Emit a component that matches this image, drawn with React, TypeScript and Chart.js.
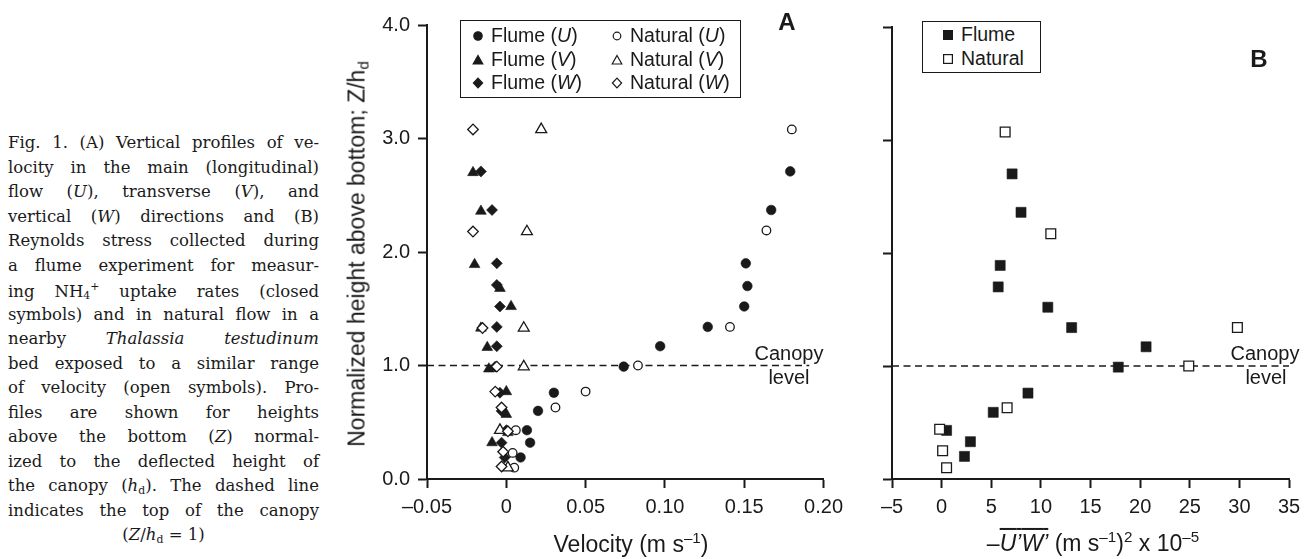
import React, { useEffect, useRef } from "react";
import { Chart, registerables } from "chart.js";

Chart.register(...registerables);

// ---------------- shared axis data ----------------
const heightTicks = [0, 1, 2, 3, 4];
const heightTickLabels = ["0.0", "1.0", "2.0", "3.0", "4.0"];
const canopyLevel = 1.0;

// ---------------- Panel A: velocity profiles ----------------
const velocityTicks = [-0.05, 0, 0.05, 0.1, 0.15, 0.2];
const velocityTickLabels = ["\u20130.05", "0", "0.05", "0.10", "0.15", "0.20"];
const canopyLineA = [-0.05, 0.191];

const flumeU_v = [0.179, 0.167, 0.151, 0.152, 0.150, 0.127, 0.097, 0.074, 0.030, 0.020, 0.013, 0.015, 0.009];
const flumeU_h = [2.71, 2.37, 1.90, 1.70, 1.52, 1.34, 1.17, 0.99, 0.76, 0.60, 0.43, 0.32, 0.19];

const flumeV_v = [-0.021, -0.016, -0.020, -0.004, 0.003, -0.016, -0.012, -0.011, 0.000, 0.000, 0.001, -0.009];
const flumeV_h = [2.70, 2.36, 1.89, 1.68, 1.52, 1.33, 1.16, 0.97, 0.77, 0.57, 0.41, 0.32];

const flumeW_v = [-0.016, -0.009, -0.006, -0.006, -0.004, -0.006, -0.006, -0.007, -0.004, -0.003, 0.000, -0.003, -0.001];
const flumeW_h = [2.71, 2.37, 1.90, 1.71, 1.52, 1.34, 1.17, 0.99, 0.76, 0.60, 0.43, 0.32, 0.19];

const naturalU_v = [0.180, 0.164, 0.141, 0.083, 0.050, 0.031, 0.006, 0.004, 0.005];
const naturalU_h = [3.08, 2.19, 1.34, 1.00, 0.77, 0.63, 0.43, 0.23, 0.10];

const naturalV_v = [0.022, 0.013, 0.011, 0.011, -0.004, 0.001];
const naturalV_h = [3.08, 2.18, 1.33, 0.99, 0.43, 0.10];

const naturalW_v = [-0.021, -0.021, -0.015, -0.006, -0.007, -0.003, 0.001, -0.002, -0.003];
const naturalW_h = [3.08, 2.18, 1.33, 0.99, 0.77, 0.63, 0.42, 0.24, 0.11];

// ---------------- Panel B: Reynolds stress ----------------
const stressTicks = [-5, 0, 5, 10, 15, 20, 25, 30, 35];
const stressTickLabels = ["\u20135", "0", "5", "10", "15", "20", "25", "30", "35"];
const canopyLineB = [-5, 35];

const flumeStress = [7.1, 8.0, 5.9, 5.7, 10.7, 13.1, 20.6, 17.8, 8.7, 5.2, 0.5, 2.9, 2.3];
const flumeStress_h = [2.70, 2.36, 1.89, 1.70, 1.52, 1.34, 1.17, 0.99, 0.76, 0.59, 0.43, 0.33, 0.20];

const naturalStress = [6.4, 11.0, 29.8, 24.9, 6.6, -0.2, 0.1, 0.5];
const naturalStress_h = [3.07, 2.17, 1.34, 1.00, 0.63, 0.44, 0.25, 0.10];

// ---------------- styling ----------------
const INK = "#1a1a1a";
const SANS = '"Liberation Sans", Arial, Helvetica, sans-serif';
const SERIF = '"DejaVu Serif", "Liberation Serif", serif';

const pts = (xs: number[], ys: number[]) => xs.map((x, i) => ({ x, y: ys[i] }));

function marker(style: string, radius: number, filled: boolean) {
  return {
    pointStyle: style,
    pointRadius: radius,
    pointHoverRadius: radius,
    pointBackgroundColor: filled ? INK : "#ffffff",
    pointBorderColor: INK,
    pointBorderWidth: filled ? 0.6 : 1.3,
    showLine: false,
  };
}

function canopyDataset(xs: number[]) {
  return {
    data: xs.map((x) => ({ x, y: canopyLevel })),
    showLine: true,
    borderColor: INK,
    borderWidth: 1.3,
    borderDash: [7, 4.5],
    pointRadius: 0,
    fill: false,
  };
}

function makeScales(
  xMin: number,
  xMax: number,
  xTicks: number[],
  xLabels: string[],
  yWidth: number,
  showYLabels: boolean
) {
  const grid = {
    drawOnChartArea: false,
    drawTicks: true,
    tickLength: 9,
    tickWidth: 2,
    tickColor: INK,
  };
  const border = { display: true, width: 2, color: INK };
  return {
    x: {
      type: "linear",
      min: xMin,
      max: xMax,
      grid,
      border,
      afterBuildTicks: (s: any) => {
        s.ticks = xTicks.map((v) => ({ value: v }));
      },
      afterFit: (s: any) => {
        s.height = 80;
      },
      ticks: {
        autoSkip: false,
        maxRotation: 0,
        padding: 7,
        color: INK,
        font: { family: SANS, size: 20 },
        callback: (_v: any, i: number) => xLabels[i],
      },
    },
    y: {
      type: "linear",
      min: 0,
      max: 4,
      grid,
      border,
      afterBuildTicks: (s: any) => {
        s.ticks = heightTicks.map((v) => ({ value: v }));
      },
      afterFit: (s: any) => {
        s.width = yWidth;
      },
      ticks: {
        display: showYLabels,
        padding: 8,
        color: INK,
        font: { family: SANS, size: 20 },
        callback: (_v: any, i: number) => heightTickLabels[i],
      },
    },
  };
}

function baseOptions(padding: any, scales: any) {
  return {
    animation: false,
    responsive: false,
    maintainAspectRatio: false,
    devicePixelRatio: 1,
    events: [],
    layout: { padding },
    plugins: { legend: { display: false }, tooltip: { enabled: false } },
    scales,
  };
}

function LegendMarker({ kind, filled, x, y }: { kind: string; filled: boolean; x: number; y: number }) {
  const fill = filled ? INK : "#fff";
  const sw = 1.2;
  let shape: React.ReactNode = null;
  if (kind === "circle") shape = <circle cx={6} cy={6} r={filled ? 4.2 : 3.8} fill={fill} stroke={INK} strokeWidth={sw} />;
  if (kind === "triangle") shape = <polygon points="6,1.5 10.8,10 1.2,10" fill={fill} stroke={INK} strokeWidth={sw} />;
  if (kind === "diamond") shape = <polygon points="6,1.2 10.6,6 6,10.8 1.4,6" fill={fill} stroke={INK} strokeWidth={sw} />;
  if (kind === "square") shape = <rect x={1.6} y={1.6} width={8.8} height={8.8} fill={fill} stroke={INK} strokeWidth={sw} />;
  return (
    <svg width={12} height={12} style={{ position: "absolute", left: x - 6, top: y - 6 }}>
      {shape}
    </svg>
  );
}

function Txt({ x, y, size = 20, children, style }: any) {
  return (
    <div
      style={{
        position: "absolute",
        left: x,
        top: y,
        transform: "translate(-50%, -50%)",
        font: `${size}px ${SANS}`,
        color: INK,
        whiteSpace: "nowrap",
        lineHeight: 1,
        ...style,
      }}
    >
      {children}
    </div>
  );
}

function LeftText({ x, y, size = 19.5, children }: any) {
  return (
    <div
      style={{
        position: "absolute",
        left: x,
        top: y,
        transform: "translateY(-50%)",
        font: `${size}px ${SANS}`,
        color: INK,
        whiteSpace: "nowrap",
        lineHeight: 1,
      }}
    >
      {children}
    </div>
  );
}

const sup = { fontSize: "0.66em", verticalAlign: "0.6em" };
const sub = { fontSize: "0.66em", verticalAlign: "-0.25em" };

const captionLines: React.ReactNode[] = [
  <>Fig. 1. (A) Vertical profiles of ve-</>,
  <>locity in the main (longitudinal)</>,
  <>flow (<i>U</i>), transverse (<i>V</i>), and</>,
  <>vertical (<i>W</i>) directions and (B)</>,
  <>Reynolds stress collected during</>,
  <>a flume experiment for measur-</>,
  <>ing NH<span style={sub}>4</span><span style={sup}>+</span> uptake rates (closed</>,
  <>symbols) and in natural flow in a</>,
  <>nearby <i>Thalassia testudinum</i></>,
  <>bed exposed to a similar range</>,
  <>of velocity (open symbols). Pro-</>,
  <>files are shown for heights</>,
  <>above the bottom (<i>Z</i>) normal-</>,
  <>ized to the deflected height of</>,
  <>the canopy (<i>h</i><span style={sub}>d</span>). The dashed line</>,
  <>indicates the top of the canopy</>,
];

export default function App() {
  const refA = useRef<HTMLCanvasElement>(null);
  const refB = useRef<HTMLCanvasElement>(null);

  useEffect(() => {
    const chartA = new Chart(refA.current as HTMLCanvasElement, {
      type: "scatter",
      data: {
        datasets: [
          { label: "Natural (W)", data: pts(naturalW_v, naturalW_h), ...marker("rectRot", 5.3, false) },
          { label: "Natural (V)", data: pts(naturalV_v, naturalV_h), ...marker("triangle", 6.3, false) },
          { label: "Natural (U)", data: pts(naturalU_v, naturalU_h), ...marker("circle", 4.3, false) },
          { label: "Flume (W)", data: pts(flumeW_v, flumeW_h), ...marker("rectRot", 5.5, true) },
          { label: "Flume (U)", data: pts(flumeU_v, flumeU_h), ...marker("circle", 4.8, true) },
          { label: "Flume (V)", data: pts(flumeV_v, flumeV_h), ...marker("triangle", 6.2, true) },
          { label: "Canopy", ...canopyDataset(canopyLineA) },
        ] as any,
      },
      options: baseOptions(
        { left: 0, right: 23, top: 25, bottom: 0 },
        makeScales(-0.05, 0.2, velocityTicks, velocityTickLabels, 97, true)
      ) as any,
    });
    const chartB = new Chart(refB.current as HTMLCanvasElement, {
      type: "scatter",
      data: {
        datasets: [
          { label: "Natural", data: pts(naturalStress, naturalStress_h), ...marker("rect", 6.9, false) },
          { label: "Flume", data: pts(flumeStress, flumeStress_h), ...marker("rect", 7.1, true) },
          { label: "Canopy", ...canopyDataset(canopyLineB) },
        ] as any,
      },
      options: baseOptions(
        { left: 0, right: 26, top: 27, bottom: 0 },
        makeScales(-5, 35, stressTicks, stressTickLabels, 42, false)
      ) as any,
    });
    return () => {
      chartA.destroy();
      chartB.destroy();
    };
  }, []);

  const capTop = 145;
  const capStep = 24.5;

  return (
    <div
      style={{
        position: "fixed",
        left: 0,
        top: 0,
        width: 1315,
        height: 559,
        background: "#fff",
        overflow: "hidden",
      }}
    >
      {/* caption */}
      {captionLines.map((ln, i) => (
        <div
          key={i}
          style={{
            position: "absolute",
            left: 8,
            width: 311,
            top: capTop + i * capStep - 12,
            height: 24,
            lineHeight: "24px",
            font: `16.5px ${SERIF}`,
            color: INK,
            textAlign: "justify",
            textAlignLast: "justify" as any,
            whiteSpace: "nowrap",
          }}
        >
          {ln}
        </div>
      ))}
      <div
        style={{
          position: "absolute",
          left: 8,
          width: 311,
          top: capTop + 16 * capStep - 12,
          height: 24,
          lineHeight: "24px",
          font: `16.5px ${SERIF}`,
          color: INK,
          textAlign: "center",
          whiteSpace: "nowrap",
        }}
      >
        (<i>Z</i>/<i>h</i>
        <span style={sub}>d</span> = 1)
      </div>

      <canvas
        ref={refA}
        width={520}
        height={559}
        style={{ position: "absolute", left: 330, top: 0, width: 520, height: 559 }}
      />
      <canvas
        ref={refB}
        width={465}
        height={559}
        style={{ position: "absolute", left: 850, top: 0, width: 465, height: 559 }}
      />

      {/* Panel A titles */}
      <Txt x={358} y={254} size={23} style={{ transform: "translate(-50%, -50%) rotate(-90deg)" }}>
        Normalized height above bottom; Z/h<span style={sub}>d</span>
      </Txt>
      <Txt x={631} y={543} size={23}>
        Velocity (m s<span style={sup}>{"\u20131"}</span>)
      </Txt>
      <Txt x={787} y={22} size={24} style={{ fontWeight: "bold" }}>
        A
      </Txt>
      <Txt x={789} y={353}>Canopy</Txt>
      <Txt x={789} y={377}>level</Txt>

      {/* Panel A legend */}
      <div
        style={{
          position: "absolute",
          left: 460,
          top: 20,
          width: 281,
          height: 78,
          boxSizing: "border-box",
          border: `1.5px solid ${INK}`,
          background: "#fff",
        }}
      />
      <LegendMarker kind="circle" filled x={478} y={36} />
      <LegendMarker kind="triangle" filled x={478} y={60} />
      <LegendMarker kind="diamond" filled x={478} y={83} />
      <LeftText x={491} y={36}>Flume (<i>U</i>)</LeftText>
      <LeftText x={491} y={60}>Flume (<i>V</i>)</LeftText>
      <LeftText x={491} y={83}>Flume (<i>W</i>)</LeftText>
      <LegendMarker kind="circle" filled={false} x={617} y={36} />
      <LegendMarker kind="triangle" filled={false} x={617} y={60} />
      <LegendMarker kind="diamond" filled={false} x={617} y={83} />
      <LeftText x={630} y={36}>Natural (<i>U</i>)</LeftText>
      <LeftText x={630} y={60}>Natural (<i>V</i>)</LeftText>
      <LeftText x={630} y={83}>Natural (<i>W</i>)</LeftText>

      {/* Panel B titles */}
      <Txt x={1093} y={542} size={23}>
        {"\u2013"}
        <span style={{ fontStyle: "italic", textDecoration: "overline" }}>U{"\u2019"}W{"\u2019"}</span> (m s
        <span style={sup}>{"\u20131"}</span>)<span style={sup}>2</span> x 10<span style={sup}>{"\u20135"}</span>
      </Txt>
      <Txt x={1259} y={59} size={24} style={{ fontWeight: "bold" }}>
        B
      </Txt>
      <Txt x={1265} y={353}>Canopy</Txt>
      <Txt x={1266} y={377}>level</Txt>

      {/* Panel B legend */}
      <div
        style={{
          position: "absolute",
          left: 922,
          top: 21,
          width: 119,
          height: 52,
          boxSizing: "border-box",
          border: `1.5px solid ${INK}`,
          background: "#fff",
        }}
      />
      <LegendMarker kind="square" filled x={948} y={35} />
      <LegendMarker kind="square" filled={false} x={948} y={59} />
      <LeftText x={961} y={35}>Flume</LeftText>
      <LeftText x={961} y={59}>Natural</LeftText>
    </div>
  );
}
